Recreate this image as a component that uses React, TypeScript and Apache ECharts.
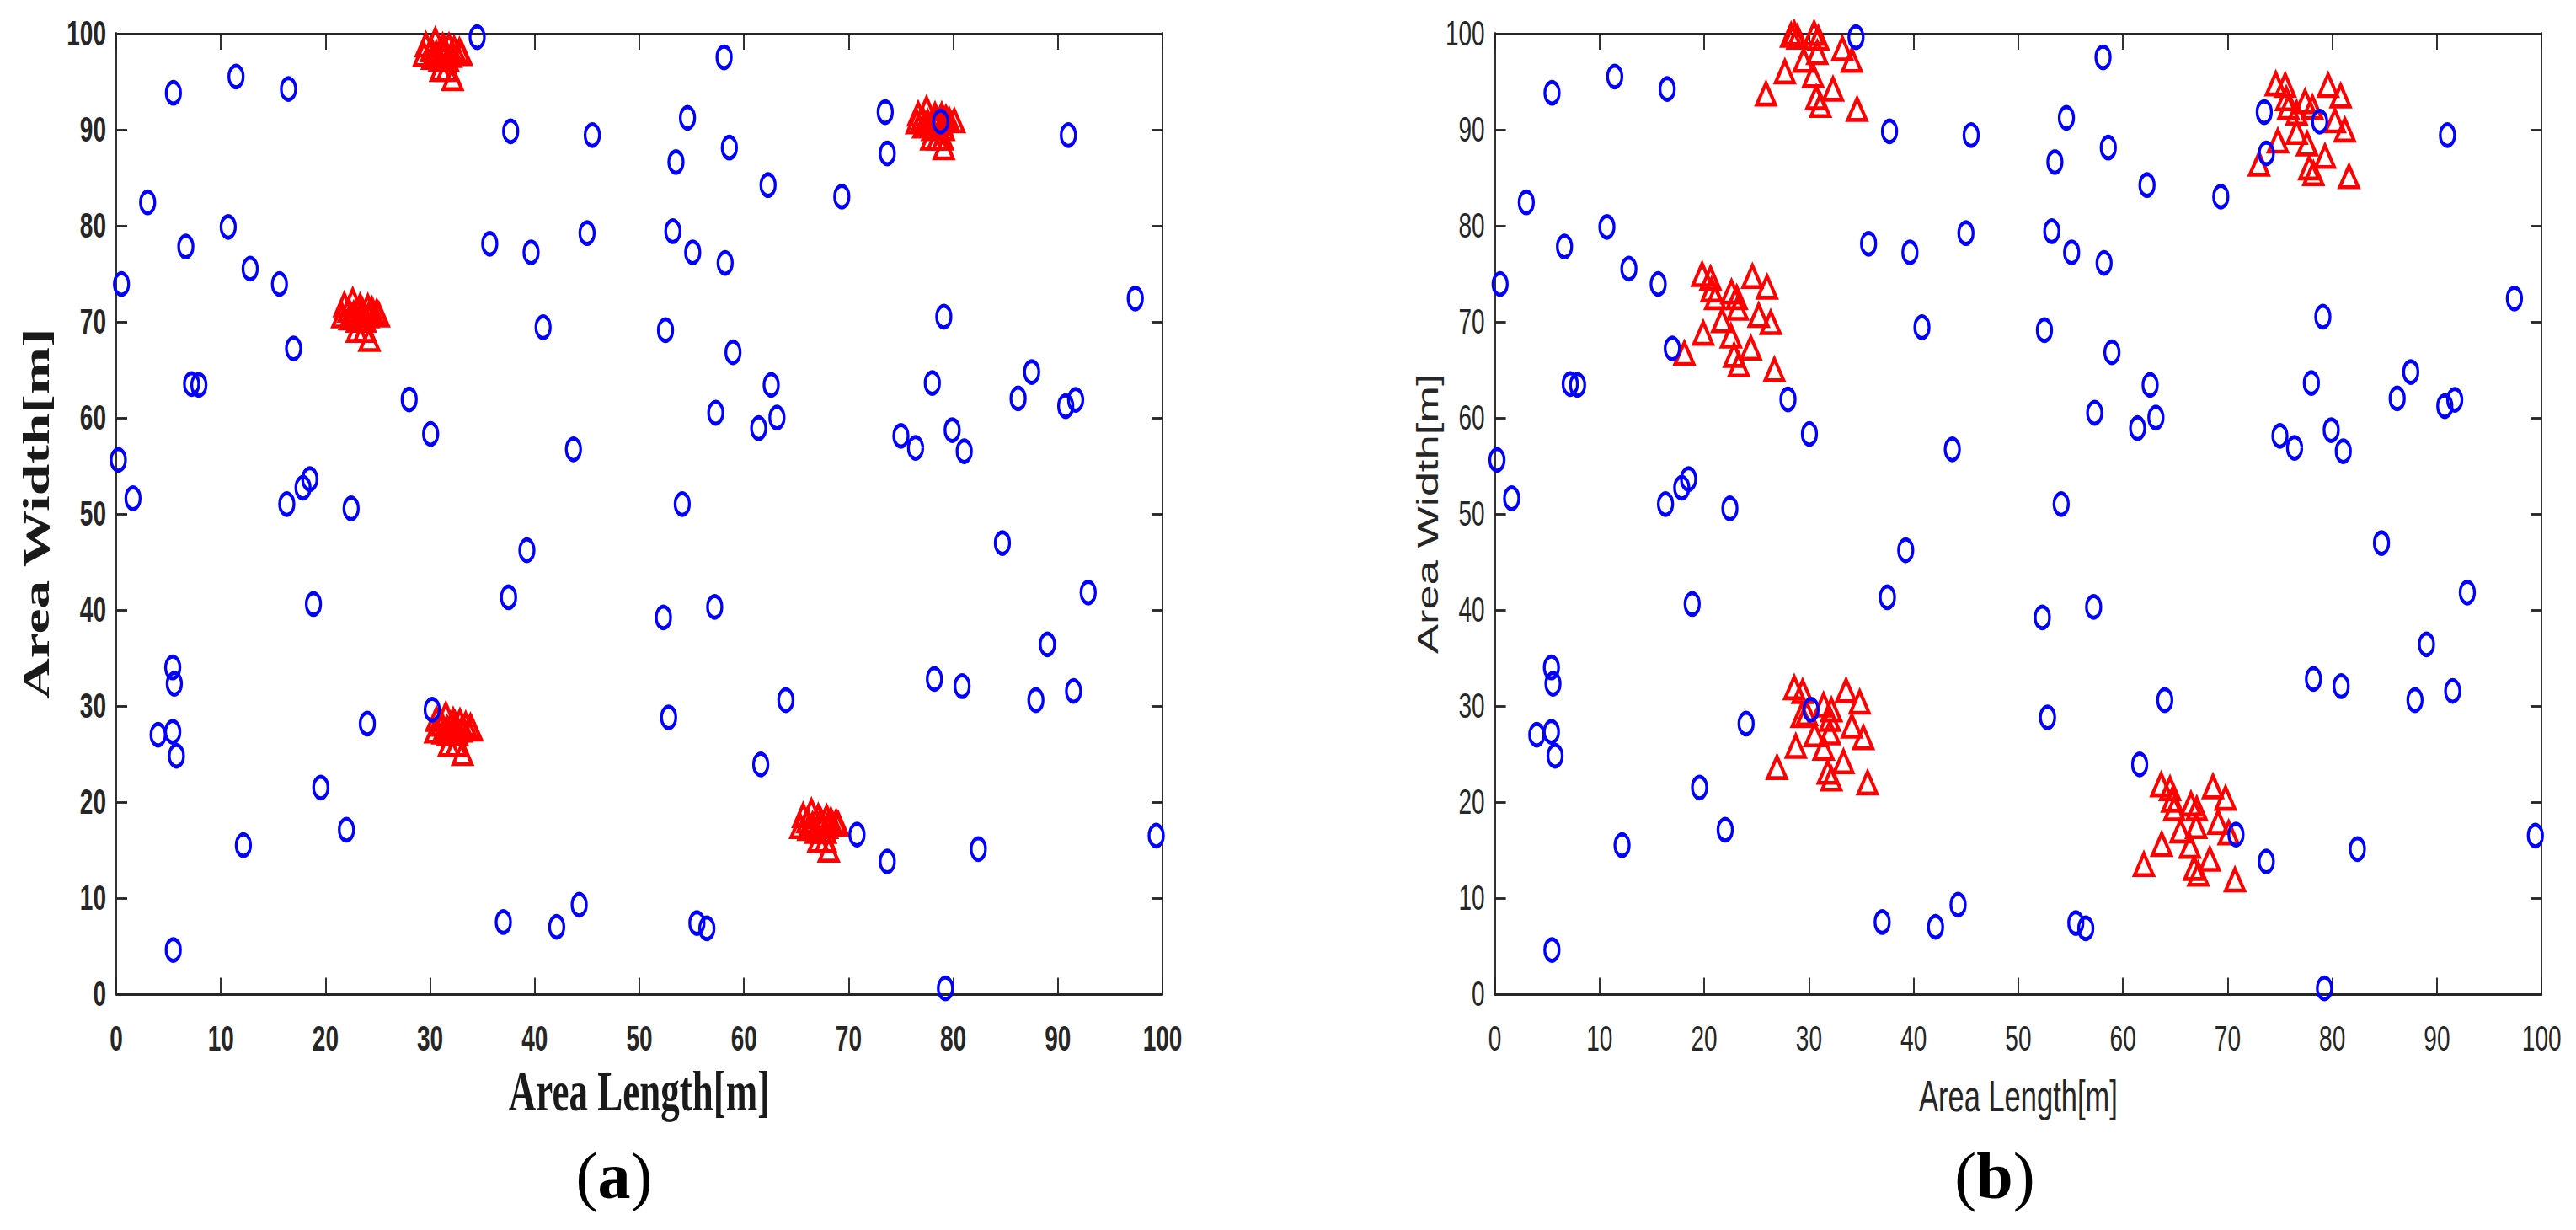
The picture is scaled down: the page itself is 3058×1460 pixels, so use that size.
import React, { useEffect, useRef } from "react";
import * as echarts from "echarts";

// ---------------- data ----------------
const AXIS_MIN = 0;
const AXIS_MAX = 100;
const AXIS_STEP = 10;

// sensor nodes (blue circles), identical in both panels
const sensors: [number, number][] = [
  [34.5, 99.6], [11.45, 95.5], [5.46, 93.8], [16.46, 94.2], [37.7, 89.8], [45.5, 89.4], [53.5, 86.6], [3.0, 82.4], [10.7, 79.85], [6.65, 77.8],
  [35.7, 78.1], [39.65, 77.2], [45.0, 79.2], [53.2, 79.4], [0.5, 73.9], [12.8, 75.5], [15.6, 73.9], [40.8, 69.4], [52.5, 69.1], [16.95, 67.2],
  [7.2, 63.5], [7.9, 63.4], [28.0, 61.9], [30.05, 58.3], [43.7, 56.7], [0.2, 55.6], [1.6, 51.6], [16.3, 51.0], [17.85, 52.7], [18.5, 53.6],
  [22.45, 50.55], [39.25, 46.2], [58.1, 97.5], [54.6, 91.2], [58.6, 88.1], [73.5, 91.8], [73.7, 87.5], [78.8, 90.8], [91.0, 89.4], [62.3, 84.2],
  [69.35, 83.0], [55.1, 77.2], [58.2, 76.1], [97.4, 72.4], [79.1, 70.5], [58.95, 66.8], [87.5, 64.75], [62.6, 63.4], [78.0, 63.6], [86.2, 62.0],
  [90.75, 61.2], [91.7, 61.85], [57.3, 60.5], [61.4, 58.9], [63.15, 60.0], [75.0, 58.1], [76.4, 56.85], [79.9, 58.7], [81.05, 56.5], [54.1, 51.0],
  [84.7, 46.95], [18.85, 40.6], [37.5, 41.3], [52.3, 39.2], [5.4, 34.0], [5.55, 32.3], [4.0, 27.0], [5.4, 27.3], [5.75, 24.8], [30.2, 29.6],
  [24.0, 28.15], [52.8, 28.8], [19.55, 21.5], [22.0, 17.1], [12.15, 15.5], [37.0, 7.5], [42.1, 7.0], [44.25, 9.3], [5.45, 4.6], [92.9, 41.8],
  [57.2, 40.3], [89.0, 36.4], [78.2, 32.8], [80.85, 32.05], [87.9, 30.6], [91.5, 31.55], [64.0, 30.6], [61.6, 23.9], [70.8, 16.6], [73.7, 13.8],
  [82.4, 15.1], [99.4, 16.5], [55.5, 7.4], [56.45, 6.85], [79.25, 0.6],
];

// panel (a): tight clusters (red triangles)
const clusterA1: [number, number][] = [
  [30.5, 99.3], [29.6, 98.8], [31.2, 98.7], [31.8, 98.7], [32.3, 98.4], [32.8, 98.2], [29.4, 97.8],
  [33.0, 97.9], [30.9, 97.3], [31.7, 97.3], [31.0, 96.25], [31.6, 96.25], [32.15, 95.3],
  [30.1, 98.3], [30.6, 97.9], [31.4, 97.9], [32.0, 97.7], [31.4, 98.3], [30.2, 97.5],
];
const clusterA2: [number, number][] = [
  [22.6, 72.2], [21.8, 71.75], [23.3, 71.6], [24.05, 71.55], [24.45, 71.25], [24.9, 71.0], [21.6, 70.6],
  [25.1, 70.7], [23.0, 70.15], [23.8, 70.15], [23.0, 69.1], [23.7, 69.1], [24.2, 68.15],
  [22.2, 71.2], [22.7, 70.8], [23.5, 70.8], [24.1, 70.6], [23.5, 71.2], [22.3, 70.4],
];
const clusterA3: [number, number][] = [
  [77.45, 92.15], [76.65, 91.6], [78.26, 91.5], [78.9, 91.5], [79.3, 91.2], [79.6, 91.0], [80.1, 90.9],
  [76.5, 90.8], [78.0, 90.1], [79.1, 90.1], [77.9, 89.1], [78.5, 89.1], [79.0, 89.1], [79.1, 88.1],
  [77.05, 91.15], [77.55, 90.75], [78.35, 90.75], [78.95, 90.55], [78.35, 91.15], [77.15, 90.35],
];
const clusterA4: [number, number][] = [
  [31.5, 29.1], [30.6, 28.6], [32.2, 28.5], [32.85, 28.4], [33.4, 28.1], [33.85, 27.9], [30.5, 27.4],
  [34.0, 27.6], [31.7, 27.1], [32.6, 27.1], [31.8, 26.0], [32.5, 26.0], [33.1, 25.05],
  [31.1, 28.1], [31.6, 27.7], [32.4, 27.7], [33.0, 27.5], [32.4, 28.1], [31.2, 27.3],
];
const clusterA5: [number, number][] = [
  [66.45, 19.05], [65.65, 18.6], [67.1, 18.5], [67.9, 18.4], [68.3, 18.1], [68.8, 17.9], [65.4, 17.45],
  [69.0, 17.7], [66.85, 16.95], [67.8, 16.95], [67.1, 16.0], [67.8, 16.0], [68.1, 15.0],
  [66.05, 18.05], [66.55, 17.65], [67.35, 17.65], [67.95, 17.45], [67.35, 18.05], [66.15, 17.25],
];

// panel (b): spread clusters (red triangles)
const clusterB1: [number, number][] = [
  [28.6, 100], [28.3, 99.8], [28.9, 99.6], [30.5, 100], [30.9, 99.5], [33.2, 98.4], [34.1, 97.2], [29.5, 97.2],
  [27.7, 96.0], [30.8, 98.0], [30.4, 95.6], [25.9, 93.7], [32.3, 94.2], [30.7, 93.3], [31.1, 92.5], [34.6, 92.1],
];
const clusterB2: [number, number][] = [
  [19.8, 74.9], [20.6, 74.5], [20.7, 73.3], [21.05, 72.5], [22.6, 73.1], [23.1, 72.5], [23.2, 71.4], [24.6, 74.7],
  [26.0, 73.6], [25.2, 70.65], [26.35, 69.9], [21.7, 70.1], [19.9, 68.8], [22.55, 68.5], [24.45, 67.25], [22.85, 66.5],
  [23.3, 65.5], [18.1, 66.7], [26.7, 65.0],
];
const clusterB3: [number, number][] = [
  [74.6, 94.75], [75.5, 94.6], [75.6, 93.2], [75.8, 92.3], [76.6, 91.7], [77.4, 92.9], [78.1, 92.3], [79.6, 94.6],
  [80.8, 93.5], [80.25, 90.9], [81.2, 89.95], [76.6, 89.7], [74.8, 88.8], [77.6, 88.5], [79.3, 87.2], [77.8, 86.0],
  [78.2, 85.4], [73.0, 86.4], [81.6, 85.1],
];
const clusterB4: [number, number][] = [
  [28.6, 31.9], [29.4, 31.5], [29.8, 29.2], [31.4, 30.1], [32.15, 29.6], [32.0, 28.6], [33.55, 31.6], [34.85, 30.4],
  [34.1, 27.9], [35.2, 26.7], [30.55, 27.0], [32.0, 27.2], [28.75, 25.8], [31.4, 25.6], [33.3, 24.2], [26.95, 23.6],
  [31.8, 23.1], [32.15, 22.4], [35.6, 22.0], [29.3, 29.0],
];
const clusterB5: [number, number][] = [
  [63.65, 21.8], [64.5, 21.4], [64.7, 20.2], [64.9, 19.3], [66.5, 19.8], [67.05, 19.3], [67.0, 17.45], [68.6, 21.6],
  [69.8, 20.4], [69.1, 17.9], [70.1, 16.8], [65.5, 17.0], [63.7, 15.6], [66.4, 15.4], [68.3, 14.05], [66.8, 13.1],
  [67.2, 12.5], [62.0, 13.5], [70.7, 11.9],
];

const xTitle = "Area Length[m]";
const yTitle = "Area Width[m]";
const panelLabels = ["a", "b"];

// ---------------- layout / style ----------------
const W = 3058;
const H = 1460;
const S = 1.5; // the original figure is stretched vertically
const AX = "#262626";
const SANS = "'Liberation Sans', Arial, Helvetica, sans-serif";
const SERIF = "'Liberation Serif', 'Times New Roman', Times, serif";

function axisPair(gridIndex: number, bold: boolean, isX: boolean, nameGap: number, nameStyle: any) {
  const common = {
    gridIndex,
    type: "value" as const,
    min: AXIS_MIN,
    max: AXIS_MAX,
    interval: AXIS_STEP,
    splitLine: { show: false },
    axisLine: { show: true, onZero: false, lineStyle: { color: AX, width: 1.9 } },
    axisTick: { show: true, inside: true, length: 13, lineStyle: { color: AX, width: 1.9 } },
  };
  const main = {
    ...common,
    position: isX ? "bottom" : "left",
    axisLabel: {
      show: true,
      margin: isX ? 21 : 12,
      fontSize: 28,
      fontFamily: SANS,
      fontWeight: bold ? "bold" : "normal",
      color: AX,
    },
    name: isX ? xTitle : yTitle,
    nameLocation: "middle",
    nameGap,
    nameRotate: isX ? 0 : 90,
    nameTextStyle: nameStyle,
  };
  const mirror = {
    ...common,
    position: isX ? "top" : "right",
    axisLabel: { show: false },
  };
  return [main, mirror];
}

const boldTitle = { fontFamily: SERIF, fontWeight: "bold", fontSize: 45, color: "#1a1a1a" };
const plainTitleX = { fontFamily: SANS, fontWeight: "normal", fontSize: 34.5, color: AX };
const plainTitleY = { fontFamily: SANS, fontWeight: "normal", fontSize: 35, color: AX };

const circleStyle = {
  symbol: "circle",
  symbolSize: 17,
  itemStyle: { color: "rgba(0,0,0,0)", borderColor: "#0000ff", borderWidth: 3.3, opacity: 1 },
};
const triStyle = {
  symbol: "triangle",
  symbolSize: [22, 17],
  itemStyle: { color: "rgba(0,0,0,0)", borderColor: "#ff0000", borderWidth: 3.5, opacity: 1 },
};

function panelLabel(letter: string, cx: number) {
  return {
    type: "text",
    x: cx,
    y: 930,
    scaleY: 1 / S,
    style: {
      text: `{p|(}{b|${letter}}{p|)}`,
      align: "center",
      verticalAlign: "middle",
      fill: "#000",
      rich: {
        p: { fontFamily: SERIF, fontSize: 78, fontWeight: "normal", fill: "#000" },
        b: { fontFamily: SERIF, fontSize: 78, fontWeight: "bold", fill: "#000" },
      },
    },
  };
}

const [xa0, xa1] = axisPair(0, true, true, 45, boldTitle);
const [ya0, ya1] = axisPair(0, true, false, 73, boldTitle);
const [xb0, xb1] = axisPair(1, false, true, 63, plainTitleX);
const [yb0, yb1] = axisPair(1, false, false, 51, plainTitleY);

const option: any = {
  animation: false,
  backgroundColor: "#ffffff",
  grid: [
    { left: 138, top: 39.5 / S, width: 1242, height: (1180 - 39.5) / S },
    { left: 1774.6, top: 39.5 / S, width: 1242.6, height: (1180 - 39.5) / S },
  ],
  xAxis: [xa0, xa1, xb0, xb1],
  yAxis: [ya0, ya1, yb0, yb1],
  graphic: [panelLabel(panelLabels[0], 729), panelLabel(panelLabels[1], 2368)],
  series: [
    {
      type: "scatter", xAxisIndex: 0, yAxisIndex: 0, clip: false, silent: true, ...triStyle,
      data: [...clusterA1, ...clusterA2, ...clusterA3, ...clusterA4, ...clusterA5],
    },
    { type: "scatter", xAxisIndex: 0, yAxisIndex: 0, clip: false, silent: true, ...circleStyle, data: sensors },
    {
      type: "scatter", xAxisIndex: 2, yAxisIndex: 2, clip: false, silent: true, ...triStyle,
      data: [...clusterB1, ...clusterB2, ...clusterB3, ...clusterB4, ...clusterB5],
    },
    { type: "scatter", xAxisIndex: 2, yAxisIndex: 2, clip: false, silent: true, ...circleStyle, data: sensors },
  ],
};

export default function App() {
  const ref = useRef<HTMLDivElement>(null);
  useEffect(() => {
    if (!ref.current) return;
    const chart = echarts.init(ref.current, undefined, { renderer: "svg" });
    chart.setOption(option);
    return () => chart.dispose();
  }, []);
  return (
    <div style={{ position: "absolute", left: 0, top: 0, width: W, height: H, overflow: "hidden", background: "#fff" }}>
      <div
        ref={ref}
        style={{ width: W, height: H / S, transform: `scaleY(${S})`, transformOrigin: "0 0" }}
      />
    </div>
  );
}
